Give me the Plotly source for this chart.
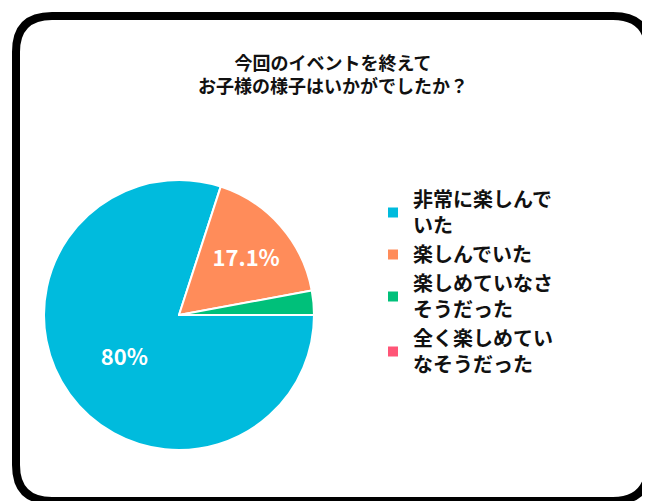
import plotly.graph_objects as go

labels = ["非常に楽しんでいた", "楽しんでいた", "楽しめていなさそうだった", "全く楽しめていなそうだった"]
legend_labels = ["<b>非常に楽しんで<br>いた</b>", "<b>楽しんでいた</b>", "<b>楽しめていなさ<br>そうだった</b>", "<b>全く楽しめてい<br>なそうだった</b>"]
values = [80, 17.1, 2.9, 0]
text_labels = ["<b>80%</b>", "<b>17.1%</b>", "", ""]
colors = ["#00bbdd", "#ff8c5a", "#00c07a", "#ff5577"]

W, H = 650, 501
fig = go.Figure(go.Pie(
    labels=legend_labels, values=values, text=text_labels, texttemplate="%{text}",
    textinfo="text", textposition="inside", insidetextorientation="horizontal",
    sort=False, direction="clockwise", rotation=90,
    marker=dict(colors=colors, line=dict(color="white", width=2)),
    textfont=dict(color="white", size=22, family="Noto Sans CJK JP"),
    domain=dict(x=[36/W, 306/W], y=[58/H, 330/H]),
    hoverinfo="skip",
))

x0, x1, y0, y1 = 8/W, 641/W, 8/H, 493/H
rx, ry = 36/W, 36/H
path = (f"M {x0+rx} {y1} L {x1-rx} {y1} Q {x1} {y1} {x1} {y1-ry} L {x1} {y0+ry} "
        f"Q {x1} {y0} {x1-rx} {y0} L {x0+rx} {y0} Q {x0} {y0} {x0} {y0+ry} "
        f"L {x0} {y1-ry} Q {x0} {y1} {x0+rx} {y1} Z")

fig.update_layout(
    width=W, height=H, margin=dict(l=0, r=0, t=0, b=0),
    paper_bgcolor="white",
    font=dict(family="Noto Sans CJK JP", color="#111"),
    title=dict(text="<b>今回のイベントを終えて<br>お子様の様子はいかがでしたか？</b>",
               x=0.5, xanchor="center", y=1-62/H, yanchor="top",
               font=dict(size=18, color="#111")),
    shapes=[dict(type="path", path=path, xref="paper", yref="paper",
                 line=dict(color="black", width=8), layer="above")],
    legend=dict(x=365/W, y=1-172/H, xanchor="left", yanchor="top",
                font=dict(size=20, color="#111"), itemwidth=30,
                bgcolor="rgba(0,0,0,0)"),
)
fig.write_html("out.html")
